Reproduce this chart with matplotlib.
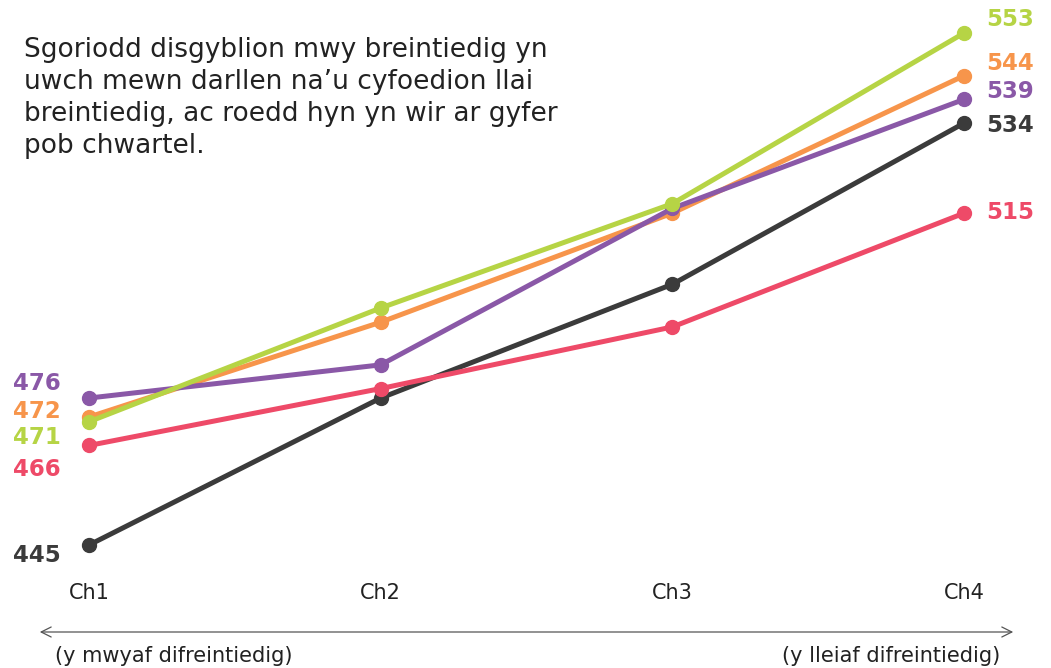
#Reading scores by quarter of disadvantage
from matplotlib import pyplot as plt

quarters = ['Ch1', 'Ch2', 'Ch3', 'Ch4']
green = [471, 495, 517, 553]
orange = [472, 492, 515, 544]
purple = [476, 483, 516, 539]
black = [445, 476, 500, 534]
red = [466, 478, 491, 515]

plt.rcParams['font.family'] = ['DejaVu Sans']

W, H = 1051, 668
fig = plt.figure(figsize=(W / 100, H / 100), dpi=100)
ax = fig.add_axes([0, 0, 1, 1])
ax.set_xlim(-0.305, 3.298)
ax.set_ylim(419.06, 559.96)
ax.axis('off')

x = range(len(quarters))
# drawing order: black, red, orange, purple, green
series = [
    (black, '#3b3b3b'),
    (red, '#ee4a68'),
    (orange, '#f7954b'),
    (purple, '#8a58a7'),
    (green, '#b6d445'),
]
for vals, col in series:
    ax.plot(x, vals, color=col, lw=3.6, marker='o', ms=10, solid_capstyle='round')

def px(xp, yp):
    return xp / W, 1 - yp / H

# left value labels (y pixel positions spread to avoid overlap)
left_y = {476: 384, 472: 411, 471: 438, 466: 469, 445: 556}
right_y = {553: 19, 544: 63, 539: 92, 534: 125, 515: 213}
for vals, col in series:
    fig.text(*px(61, left_y[vals[0]]), str(vals[0]), color=col, fontsize=16.5,
             fontweight='bold', ha='right', va='center')
    fig.text(*px(986, right_y[vals[-1]]), str(vals[-1]), color=col, fontsize=16.5,
             fontweight='bold', ha='left', va='center')

# quarter labels
for i, q in enumerate(quarters):
    ax.text(i, 434.9, q, fontsize=15, color='#222222', ha='center', va='center')

# arrow under the axis
ax.annotate('', xy=px(1016, 632), xytext=px(37, 632), xycoords='figure fraction',
            textcoords='figure fraction',
            arrowprops=dict(arrowstyle='<->', color='#555555', lw=0.9,
                            mutation_scale=18))
fig.text(*px(55, 656), '(y mwyaf difreintiedig)', fontsize=15, color='#222222',
         ha='left', va='center')
fig.text(*px(1000, 656), '(y lleiaf difreintiedig)', fontsize=15, color='#222222',
         ha='right', va='center')

fig.text(*px(24, 37), 'Sgoriodd disgyblion mwy breintiedig yn\n'
         'uwch mewn darllen na\u2019u cyfoedion llai\n'
         'breintiedig, ac roedd hyn yn wir ar gyfer\n'
         'pob chwartel.', fontsize=19, color='#222222', ha='left', va='top',
         linespacing=1.3)

plt.savefig('out.png', dpi=100)
